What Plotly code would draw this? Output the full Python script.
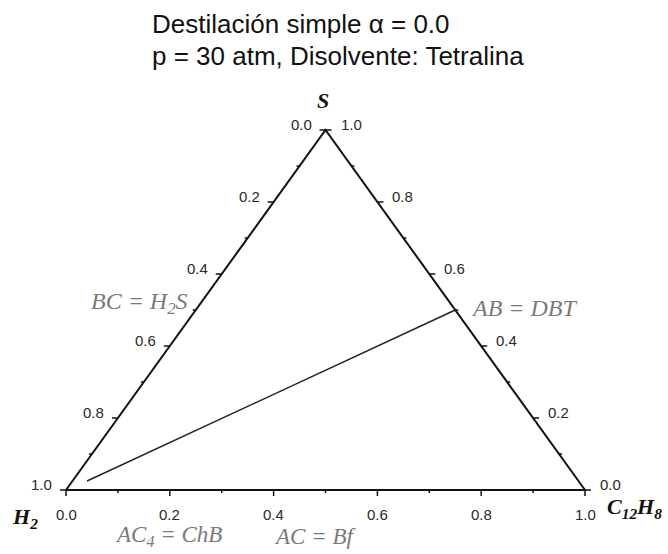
import plotly.graph_objects as go

# Title text
title_line1 = "Destilación simple α = 0.0"
title_line2 = "p = 30 atm, Disolvente: Tetralina"

# Tick values on the three edges of the composition triangle
major_ticks = [0.0, 0.2, 0.4, 0.6, 0.8, 1.0]
minor_ticks = [0.1, 0.3, 0.5, 0.7, 0.9]
tick_labels = ["0.0", "0.2", "0.4", "0.6", "0.8", "1.0"]

# Distillation path (mole fractions of S and C12H8; H2 is the remainder)
path_S = [0.025, 0.50]
path_C12H8 = [0.028, 0.50]

# Pixel size in data units (horizontal, vertical)
PX = 1 / 519
PY = 1 / 360


def bottom_pt(v):
    return v, 0.0


def left_pt(v):
    return 0.5 * (1 - v), 1 - v


def right_pt(v):
    return 1 - 0.5 * v, v


fig = go.Figure()

# Triangle frame
fig.add_trace(go.Scatter(
    x=[0, 1, 0.5, 0], y=[0, 0, 1, 0], mode="lines",
    line=dict(color="#111111", width=2), hoverinfo="skip", showlegend=False))

# Tick marks
tx, ty = [], []
for vals, length in ((major_ticks, 6), (minor_ticks, 3)):
    for v in vals:
        x, y = bottom_pt(v)
        tx += [x, x, None]
        ty += [y, y - length * PY, None]
        x, y = left_pt(v)
        tx += [x, x - length * PX, None]
        ty += [y, y, None]
        x, y = right_pt(v)
        tx += [x, x + length * PX, None]
        ty += [y, y, None]
fig.add_trace(go.Scatter(x=tx, y=ty, mode="lines",
                         line=dict(color="#111111", width=1.5),
                         hoverinfo="skip", showlegend=False))

# Distillation path
px_path = [c + s / 2 for s, c in zip(path_S, path_C12H8)]
fig.add_trace(go.Scatter(x=px_path, y=path_S, mode="lines",
                         line=dict(color="#222222", width=1.4),
                         hoverinfo="skip", showlegend=False))

tick_font = dict(family="Liberation Sans, Arial", size=15, color="#2a2a2a")
ann = []
for v, t in zip(major_ticks, tick_labels):
    x, y = bottom_pt(v)
    ann.append(dict(x=x, y=y - 24 * PY, text=t, xanchor="center", yanchor="middle", font=tick_font))
    x, y = left_pt(v)
    ann.append(dict(x=x - 12 * PX, y=y + 6 * PY, text=t, xanchor="right", yanchor="middle", font=tick_font))
    x, y = right_pt(v)
    ann.append(dict(x=x + 13 * PX, y=y + 6 * PY, text=t, xanchor="left", yanchor="middle", font=tick_font))

vertex_font = dict(family="Liberation Serif, Times New Roman", size=22, color="#111111")
ann += [
    dict(x=(323 - 66) * PX, y=(490 - 100) * PY, text="<b><i>S</i></b>", xanchor="center", yanchor="middle", font=vertex_font),
    dict(x=(10 - 66) * PX, y=(490 - 518) * PY, text="<b><i>H<sub>2</sub></i></b>", xanchor="left", yanchor="middle", font=vertex_font),
    dict(x=(605 - 66) * PX, y=(490 - 508) * PY, text="<b><i>C<sub>12</sub>H<sub>8</sub></i></b>", xanchor="left", yanchor="middle", font=vertex_font),
]

edge_font = dict(family="Liberation Serif, Times New Roman", size=24, color="#7a7a7a")
bottom_edge_font = dict(family="Liberation Serif, Times New Roman", size=23, color="#7a7a7a")
ann += [
    dict(x=(190 - 66) * PX, y=(490 - 303) * PY, text="<i>BC = H<sub>2</sub>S</i>", xanchor="right", yanchor="middle", font=edge_font),
    dict(x=(469 - 66) * PX, y=(490 - 308) * PY, text="<i>AB = DBT</i>", xanchor="left", yanchor="middle", font=edge_font),
    dict(x=(113 - 66) * PX, y=(490 - 536) * PY, text="<i>AC<sub>4</sub> = ChB</i>", xanchor="left", yanchor="middle", font=bottom_edge_font),
    dict(x=(272 - 66) * PX, y=(490 - 536) * PY, text="<i>AC = Bf</i>", xanchor="left", yanchor="middle", font=bottom_edge_font),
]

for a in ann:
    a.update(xref="x", yref="y", showarrow=False)

title_font = dict(family="Liberation Sans, Arial", size=26, color="#111111")
ann += [
    dict(xref="paper", yref="paper", x=150 / 668, y=1 - 24 / 554, text=title_line1,
         xanchor="left", yanchor="middle", showarrow=False, font=title_font),
    dict(xref="paper", yref="paper", x=150 / 668, y=1 - 56 / 554, text=title_line2,
         xanchor="left", yanchor="middle", showarrow=False, font=title_font),
]

fig.update_layout(
    width=668, height=554,
    margin=dict(l=0, r=0, t=0, b=0),
    paper_bgcolor="white", plot_bgcolor="white",
    annotations=ann,
    xaxis=dict(range=[-66 / 519, (668 - 66) / 519], visible=False, fixedrange=True),
    yaxis=dict(range=[(490 - 554) / 360, 490 / 360], visible=False, fixedrange=True),
)

fig.write_html("out.html")
